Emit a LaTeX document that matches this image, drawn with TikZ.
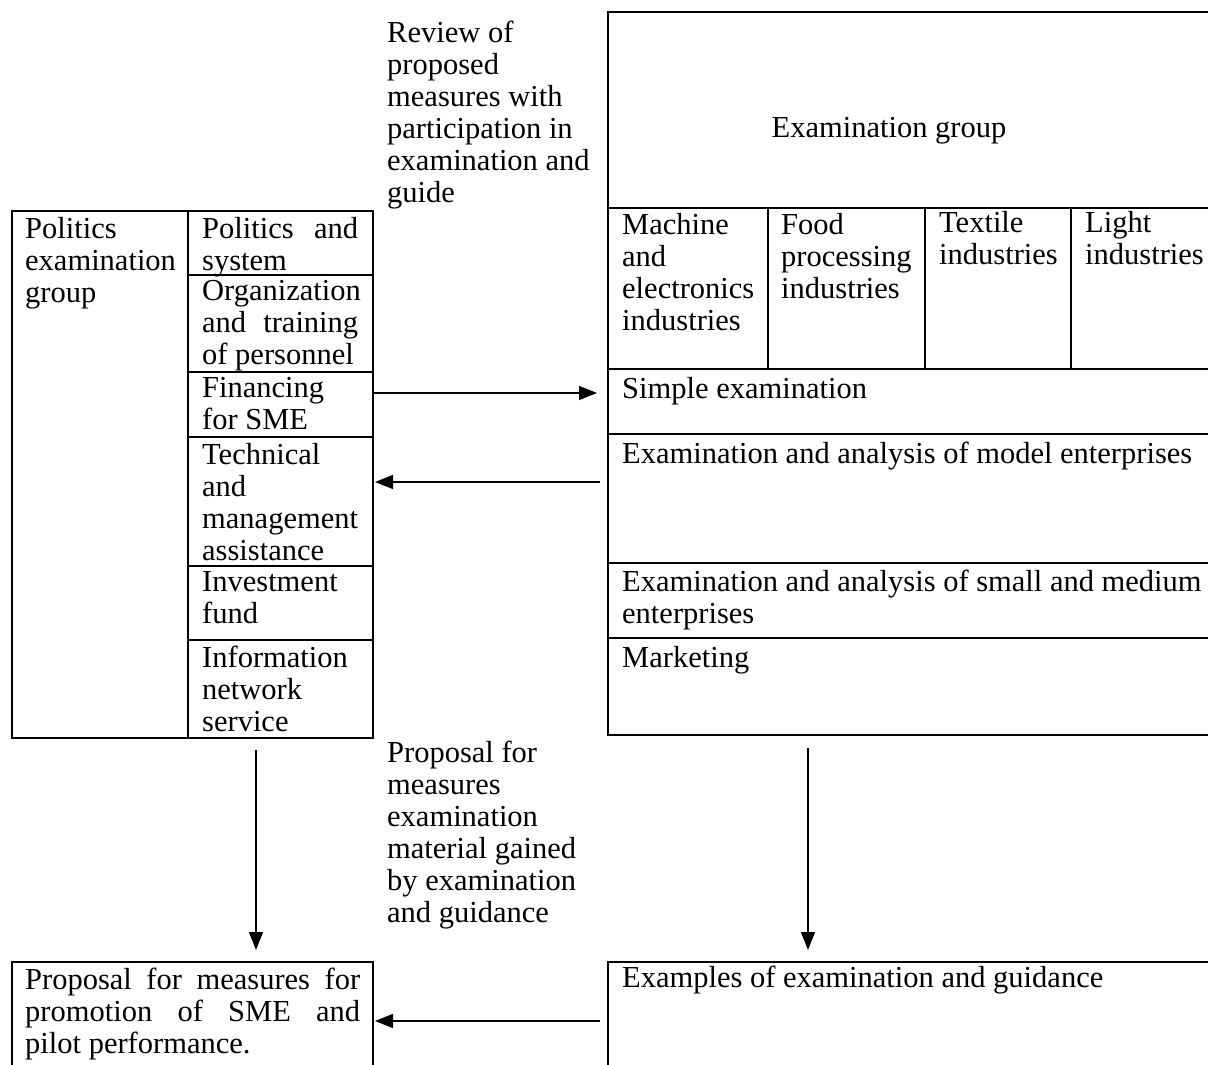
\documentclass[tikz,border=0pt]{standalone}
\usepackage{fontspec}
\setmainfont{Liberation Serif}
\usetikzlibrary{arrows.meta}
\newcommand\jline[2]{\makebox[#1][s]{#2}}
\begin{document}
\begin{tikzpicture}[x=1pt,y=-1pt,
  cell/.style={draw, line width=1.3pt, anchor=north west, inner sep=0pt, outer sep=0pt},
  txt/.style={anchor=north west, yshift=22.4pt, inner sep=0pt, align=left, font=\fontsize{30.5}{32}\selectfont, execute at begin node=\strut},
  arr/.style={-{Triangle[length=18pt,width=14pt]}, line width=1.3pt}]
\useasboundingbox[fill=white] (0,0) rectangle (1208,1065);
% left block
\node[cell, minimum width=361pt, minimum height=527pt] (pol) at (12,211) {};
\node[cell, minimum width=185pt, minimum height=64pt] (polsys) at (188,211) {};
\node[cell, minimum width=185pt, minimum height=97pt] (org) at (188,275) {};
\node[cell, minimum width=185pt, minimum height=65pt] (fin) at (188,372) {};
\node[cell, minimum width=185pt, minimum height=129pt] (tech) at (188,437) {};
\node[cell, minimum width=185pt, minimum height=74pt] (inv) at (188,566) {};
\node[cell, minimum width=185pt, minimum height=98pt] (info) at (188,640) {};
% right block
\node[cell, minimum width=612pt, minimum height=196pt] (exg) at (608,12) {};
\node[cell, minimum width=160pt, minimum height=161pt] (mach) at (608,208) {};
\node[cell, minimum width=157pt, minimum height=161pt] (food) at (768,208) {};
\node[cell, minimum width=146pt, minimum height=161pt] (tex) at (925,208) {};
\node[cell, minimum width=149pt, minimum height=161pt] (light) at (1071,208) {};
\node[cell, minimum width=612pt, minimum height=65pt] (simple) at (608,369) {};
\node[cell, minimum width=612pt, minimum height=129pt] (model) at (608,434) {};
\node[cell, minimum width=612pt, minimum height=75pt] (sme) at (608,563) {};
\node[cell, minimum width=612pt, minimum height=97pt] (mkt) at (608,638) {};
% bottom boxes
\node[cell, minimum width=361pt, minimum height=118pt] (prop) at (12,962) {};
\node[cell, minimum width=612pt, minimum height=118pt] (examples) at (608,962) {};
% texts
\node[txt] (trev) at (387,43) {Review of\\proposed\\measures with\\participation in\\examination and\\guide};
\node[txt, anchor=north] (texg) at (889,137) {Examination group};
\node[txt] (tmach) at (622,236) {Machine\\and\\electronics\\industries};
\node[txt] (tfood) at (781,236) {Food\\processing\\industries};
\node[txt] (ttex) at (939,234) {Textile\\industries};
\node[txt] (tlight) at (1085,234) {Light\\industries};
\node[txt] (tpol) at (25,240) {Politics\\examination\\group};
\node[txt] (tpolsys) at (202,240) {\jline{156pt}{Politics and}\\system};
\node[txt] (torg) at (202,303) {Organization\\\jline{156pt}{and training}\\of personnel};
\node[txt] (tfin) at (202,400) {Financing\\for SME};
\node[txt] (ttech) at (202,466) {Technical\\and\\management\\assistance};
\node[txt] (tinv) at (202,594) {Investment\\fund};
\node[txt] (tinfo) at (202,668) {Information\\network\\service};
\node[txt] (tsimple) at (622,398) {Simple examination};
\node[txt] (tmodel) at (622,463) {Examination and analysis of model enterprises};
\node[txt] (tsme) at (622,592) {Examination and analysis of small and medium\\enterprises};
\node[txt] (tmkt) at (622,667) {Marketing};
\node[txt] (tmid) at (387,763) {Proposal for\\measures\\examination\\material gained\\by examination\\and guidance};
\node[txt] (tprop) at (25,990) {\jline{335pt}{Proposal for measures for}\\\jline{335pt}{promotion of SME and}\\pilot performance.};
\node[txt] (tex2) at (622,987) {Examples of examination and guidance};
% connectors
\coordinate (a1) at ([yshift=11.5pt]fin.east);
\draw[arr, shorten >=11pt] (a1) -- (a1 -| simple.west);
\coordinate (a2) at ([yshift=16.5pt]model.west);
\draw[arr, shorten <=8pt, shorten >=2pt] (a2) -- (a2 -| tech.east);
\coordinate (a3) at ([xshift=63.5pt]pol.south);
\draw[arr, shorten <=12pt, shorten >=12pt] (a3) -- (a3 |- prop.north);
\coordinate (a4) at ([xshift=-106pt]mkt.south);
\draw[arr, shorten <=13pt, shorten >=12pt] (a4) -- (a4 |- examples.north);
\draw[arr, shorten <=8pt, shorten >=2pt] (examples.west) -- (examples.west -| prop.east);
\end{tikzpicture}
\end{document}
